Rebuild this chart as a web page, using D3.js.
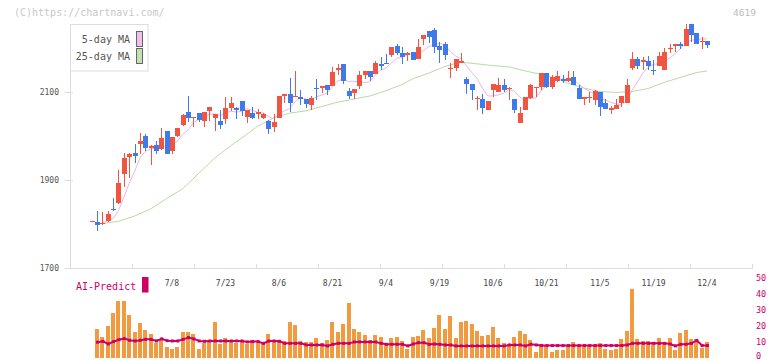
<!DOCTYPE html>
<html>
<head>
<style>
  body { margin: 0; background: #fff; }
  svg text { font-family: "DejaVu Sans Mono", monospace; }
  .axis path, .axis line { stroke: #ddd; shape-rendering: crispEdges; }
</style>
<script src="https://d3js.org/d3.v7.min.js"></script>
</head>
<body>
<svg id="chart" width="772" height="361"></svg>
<script>
// daily candles, oldest first
const opens  = [1805,1805,1799,1806,1835,1848,1913,1952,1962,1982,1999,1972,1980,1970,2012,1967,1999,2024,2055,2043,
                2053,2033,2056,2042,2035,2038,2063,2064,2080,2044,2053,2050,2040,2035,2020,2042,2090,2095,2088,2089,
                2085,2071,2110,2109,2117,2114,2149,2164,2103,2097,2113,2139,2148,2141,2164,2167,2183,2205,2189,2185,
                2191,2176,2220,2239,2242,2205,2210,2154,2154,2167,2130,2119,2083,2085,2060,2104,2099,2117,2106,2085,
                2029,2058,2087,2109,2112,2144,2112,2125,2130,2124,2134,2110,2083,2087,2082,2101,2076,2059,2062,2076,
                2074,2155,2174,2168,2171,2151,2160,2149,2197,2204,2210,2204,2255,2235,2213,2217];
const highs  = [1805,1830,1828,1830,1860,1923,1962,1962,1982,2007,2005,1980,1989,2019,2012,1998,2019,2050,2092,2044,
                2053,2055,2067,2050,2059,2089,2089,2067,2080,2059,2067,2061,2052,2037,2050,2092,2095,2132,2148,2105,
                2085,2090,2130,2114,2117,2156,2164,2164,2109,2107,2148,2148,2148,2171,2179,2187,2203,2210,2202,2191,
                2191,2221,2230,2239,2246,2214,2214,2167,2176,2189,2135,2119,2092,2096,2080,2119,2131,2129,2111,2085,
                2067,2089,2119,2112,2144,2144,2138,2148,2139,2148,2148,2115,2089,2101,2105,2101,2083,2068,2085,2092,
                2130,2190,2180,2180,2182,2173,2190,2199,2210,2210,2213,2255,2255,2235,2225,2217];
const lows   = [1805,1785,1798,1805,1830,1845,1883,1904,1938,1960,1967,1933,1960,1969,1960,1960,1997,2022,2032,2020,
                2032,2020,2033,2012,2016,2027,2056,2038,2045,2029,2039,2039,2039,2004,2010,2042,2076,2055,2088,2071,
                2064,2060,2081,2098,2094,2114,2139,2118,2085,2085,2107,2130,2124,2141,2151,2164,2180,2183,2163,2170,
                2172,2176,2206,2212,2189,2167,2173,2131,2147,2167,2096,2082,2060,2049,2060,2089,2099,2101,2082,2053,
                2029,2058,2085,2089,2105,2109,2107,2123,2120,2123,2115,2083,2070,2074,2070,2045,2062,2049,2062,2067,
                2074,2149,2153,2151,2149,2139,2160,2149,2188,2190,2197,2204,2213,2208,2198,2199];
const closes = [1806,1798,1802,1823,1834,1894,1951,1960,1954,1989,1972,1978,1967,1995,1960,1998,2019,2048,2042,2044,
                2037,2055,2067,2050,2026,2064,2075,2058,2056,2059,2042,2055,2051,2017,2032,2092,2095,2076,2092,2083,
                2073,2087,2109,2114,2105,2146,2155,2124,2090,2107,2139,2148,2133,2166,2160,2166,2203,2188,2179,2189,
                2172,2202,2230,2224,2203,2195,2183,2155,2174,2171,2119,2105,2087,2064,2080,2119,2117,2104,2109,2060,
                2053,2089,2117,2112,2144,2112,2133,2137,2125,2132,2115,2083,2089,2089,2103,2065,2062,2064,2070,2092,
                2117,2176,2158,2172,2158,2150,2182,2192,2201,2210,2204,2244,2229,2208,2217,2206];

// 25-day moving average, read at these candle indexes
const ma25Idx = [2,5,8,11,14,17,20,23,26,29,31,34,37,40,43,46,49,52,55,58,60,63,66,69,72,75,78,81,84,87,89,92,95,98,101,104,107,110,113,115];
const ma25Val = [1801,1806,1818,1834,1858,1880,1915,1950,1978,2004,2022,2041,2052,2057,2067,2077,2084,2091,2103,2117,
                 2130,2143,2158,2168,2164,2160,2157,2148,2140,2130,2120,2109,2101,2099,2101,2108,2122,2133,2144,2148];

const volumes = [0,18,13,19.9,28.1,35.8,35.8,26.9,16.2,21.8,17.4,14.9,9.2,11.8,6.7,5.5,6.7,16.2,16.2,14.9,5.5,
                 9.2,10.5,22.4,8.6,12.4,11.1,9.2,11.1,8.6,11.1,9.2,9.2,14.9,11.1,11.1,10.5,22.4,20.5,10.5,9.9,
                 9.9,12.4,9.2,11.1,22.4,16.2,21.2,34.4,18,16.2,14.3,11.1,14.3,13,9.2,12.4,13,
                 10.5,5.5,13,13.6,17.4,12.4,18.7,26.9,18,26.2,12.4,22.4,23.1,21.2,16.8,13.6,14.3,19.3,12.4,9.2,
                 8.6,13,16.8,14.9,11.1,3.6,8.6,7.4,3.6,4.8,4.8,7.4,9.9,7.4,7.4,7.4,7.4,9.2,5.5,4.8,
                 5.5,11.8,16.8,43.2,11.8,10.5,10.5,9.9,12.4,9.9,12.4,4.8,15.5,17.4,11.8,11.8,6.1,9.9];
const aiPredict = [null,9.7,10.3,8.6,10.1,11.3,12.0,10.9,10.5,10.9,11.5,11.5,10.5,11.8,10.7,10.5,10.5,11.5,12.6,11.8,10.5,
                   10.3,10.5,10.5,10.5,10.5,10.5,10.5,10.5,9.9,10.1,10.1,9.0,10.5,10.5,10.3,9.0,9.0,9.0,9.0,8.0,
                   8.0,8.0,8.0,7.4,8.4,9.0,9.0,9.0,9.9,9.9,9.9,9.9,9.9,9.0,8.4,8.4,8.4,
                   8.4,7.4,8.6,9.4,9.4,8.4,8.6,8.4,8.0,8.0,7.4,7.4,7.4,7.4,7.4,7.4,7.4,7.4,7.4,7.4,
                   8.0,8.0,8.0,7.4,8.4,8.0,7.6,7.6,7.6,7.6,7.6,7.6,7.6,7.6,7.6,7.6,7.6,7.6,7.6,7.6,
                   7.6,7.6,8.0,9.0,9.0,9.0,9.0,9.0,9.0,9.0,8.6,7.4,8.4,8.4,9.0,10.8,7.6,7.6];

const dateLabels = ["7/8","7/23","8/6","8/21","9/4","9/19","10/6","10/21","11/5","11/19","12/4"];
const dateIdx    = [15,25,35,45,55,65,75,85,95,105,115];
const priceTicks = [1700,1900,2100];
const volTicks   = [0,10,20,30,40,50];

const UP = "#f25442", DOWN = "#3f79ea", AI = "#cc0066";

const svg = d3.select("svg#chart");
const n = closes.length;

const idxScale = d3.scaleLinear().domain([0, n - 1]).range([91.7, 707]);
const priceScale = d3.scaleLinear().domain([1700, 2300]).range([268, 4]);
const volScale = d3.scaleLinear().domain([0, 50]).range([357.7, 278]);
const gridScale = d3.scaleLinear().domain([0, 11]).range([70, 752]);

// header texts
svg.append("text").attr("x", 14).attr("y", 15.5).attr("font-size", 10).attr("fill", "#c8c8c8")
  .text("(C)https://chartnavi.com/");
svg.append("text").attr("x", 756).attr("y", 15.5).attr("font-size", 9.5).attr("fill", "#bbb")
  .attr("text-anchor", "end").text("4619");

// axes
let leftAxis = d3.axisLeft(priceScale).tickValues(priceTicks).tickSize(8).tickPadding(6)
                 .tickFormat(d3.format("d"));
let yAxis = svg.append("g").attr("class", "axis").attr("transform", "translate(73,0)").call(leftAxis);
yAxis.select(".domain").remove();
yAxis.selectAll("text").attr("font-size", 8).attr("fill", "#555").attr("font-family", "DejaVu Sans Mono");

svg.append("line").attr("x1", 70.5).attr("x2", 70.5).attr("y1", 24).attr("y2", 268)
  .attr("stroke", "#ddd");

let bottomAxis = d3.axisTop(gridScale).tickValues(d3.range(12)).tickSize(4).tickSizeOuter(0).tickFormat("");
svg.append("g").attr("class", "axis").attr("transform", "translate(0,268)").call(bottomAxis);

// moving averages
const ma5 = closes.map((c, i) => i < 1 ? null : d3.mean(closes.slice(Math.max(0, i - 4), i + 1)));
const maLine = d3.line().defined(d => d[1] != null)
  .x(d => idxScale(d[0])).y(d => priceScale(d[1]));

svg.append("path").datum(ma25Idx.map((d, i) => [d, ma25Val[i]]))
  .attr("d", maLine).attr("fill", "none").attr("stroke", "#b6dca6").attr("stroke-width", 1);
svg.append("path").datum(ma5.map((d, i) => [i, d]).filter(d => d[0] >= 2))
  .attr("d", maLine).attr("fill", "none").attr("stroke", "#e8b6ea").attr("stroke-width", 1);

// candles
let candles = svg.append("g").attr("shape-rendering", "crispEdges");
closes.forEach((c, i) => {
  const o = opens[i];
  const col = c >= o ? UP : DOWN;
  const cx = Math.round(idxScale(i));
  candles.append("line")
    .attr("x1", cx + 0.5).attr("x2", cx + 0.5)
    .attr("y1", priceScale(highs[i])).attr("y2", priceScale(lows[i]))
    .attr("stroke", col);
  const top = priceScale(Math.max(o, c));
  const h = Math.max(1, priceScale(Math.min(o, c)) - top);
  candles.append("rect")
    .attr("x", cx - 2).attr("y", top).attr("width", 5).attr("height", h)
    .attr("fill", col);
});

// legend
svg.append("rect").attr("x", 70.5).attr("y", 24.5).attr("width", 77.5).attr("height", 46.5)
  .attr("fill", "#fff").attr("stroke", "#ddd");
svg.append("text").attr("x", 130).attr("y", 43).attr("font-size", 10).attr("fill", "#555")
  .attr("text-anchor", "end").text("5-day MA");
svg.append("text").attr("x", 130).attr("y", 60).attr("font-size", 10).attr("fill", "#555")
  .attr("text-anchor", "end").text("25-day MA");
svg.append("rect").attr("x", 136.5).attr("y", 31.5).attr("width", 6).attr("height", 15)
  .attr("fill", "#f0bef0").attr("stroke", "#666");
svg.append("rect").attr("x", 136.5).attr("y", 48.5).attr("width", 6).attr("height", 15)
  .attr("fill", "#c2e2b4").attr("stroke", "#666");

// date labels
dateLabels.forEach((d, i) => {
  svg.append("text").attr("x", idxScale(dateIdx[i])).attr("y", 286)
    .attr("font-size", 8).attr("fill", "#444").attr("text-anchor", "middle").text(d);
});

// volume
let vol = svg.append("g").attr("shape-rendering", "crispEdges");
volumes.forEach((v, i) => {
  if (v <= 0) return;
  vol.append("rect")
    .attr("x", Math.round(idxScale(i)) - 2).attr("y", volScale(v))
    .attr("width", 4).attr("height", volScale(0) - volScale(v))
    .attr("fill", "#f29a40");
});

const aiPts = aiPredict.map((d, i) => [i, d]).filter(d => d[1] != null);
svg.append("path").datum(aiPts)
  .attr("d", d3.line().x(d => idxScale(d[0]) + 0.5).y(d => volScale(d[1])))
  .attr("fill", "none").attr("stroke", AI).attr("stroke-width", 2);
svg.append("g").selectAll("rect").data(aiPts).join("rect")
  .attr("x", d => idxScale(d[0]) - 1).attr("y", d => volScale(d[1]) - 1.5)
  .attr("width", 3).attr("height", 3).attr("fill", AI);

volTicks.forEach(t => {
  svg.append("text").attr("x", 756).attr("y", Math.min(volScale(t) + 3, 358.5))
    .attr("font-size", 8.5).attr("fill", AI).text(t);
});

svg.append("text").attr("x", 76).attr("y", 290).attr("font-size", 10).attr("fill", AI).text("AI-Predict");
svg.append("rect").attr("x", 142).attr("y", 277).attr("width", 6.5).attr("height", 15.5).attr("fill", AI);
</script>
</body>
</html>
